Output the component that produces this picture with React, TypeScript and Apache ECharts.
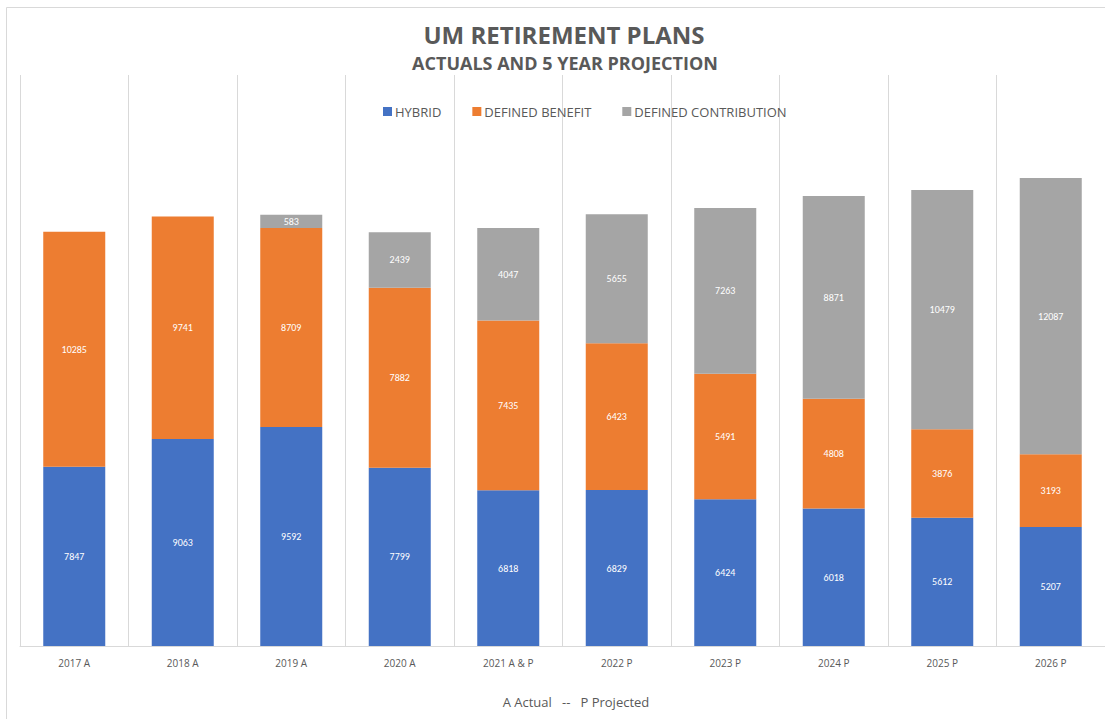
import React, { useEffect, useRef } from "react";
import * as echarts from "echarts";

const categories = ["2017 A", "2018 A", "2019 A", "2020 A", "2021 A & P", "2022 P", "2023 P", "2024 P", "2025 P", "2026 P"];
const hybrid = [7847, 9063, 9592, 7799, 6818, 6829, 6424, 6018, 5612, 5207];
const definedBenefit = [10285, 9741, 8709, 7882, 7435, 6423, 5491, 4808, 3876, 3193];
const definedContribution: (number | null)[] = [null, null, 583, 2439, 4047, 5655, 7263, 8871, 10479, 12087];

const FONT = "Calibri, Carlito, Lato, sans-serif";
const WIDE = "'Open Sans', sans-serif";
const GREY_TEXT = "#595959";

export default function App() {
  const ref = useRef<HTMLDivElement>(null);
  useEffect(() => {
    if (!ref.current) return;
    const chart = echarts.init(ref.current, null, { renderer: "svg" });
    const label = {
      show: true,
      position: "inside" as const,
      color: "#ffffff",
      fontSize: 10,
      fontFamily: FONT,
    };
    chart.setOption({
      animation: false,
      backgroundColor: "#ffffff",
      graphic: [
        {
          type: "rect",
          shape: { x: 6.5, y: 7.5, width: 1110, height: 730 },
          style: { fill: "none", stroke: "#d9d9d9", lineWidth: 1 },
          silent: true,
          z: -10,
        },
        {
          type: "text",
          x: 564,
          y: 34,
          style: {
            text: "UM RETIREMENT PLANS",
            fill: GREY_TEXT,
            font: `bold 24px ${WIDE}`,
            textAlign: "center",
            textVerticalAlign: "middle",
          },
        },
        {
          type: "text",
          x: 565,
          y: 63,
          style: {
            text: "ACTUALS AND 5 YEAR PROJECTION",
            fill: GREY_TEXT,
            font: `bold 18px ${WIDE}`,
            textAlign: "center",
            textVerticalAlign: "middle",
          },
        },
        {
          type: "text",
          x: 576,
          y: 702,
          style: {
            text: "A Actual   --   P Projected",
            fill: GREY_TEXT,
            font: `13px ${WIDE}`,
            textAlign: "center",
            textVerticalAlign: "middle",
          },
        },
      ],
      legend: {
        left: 378,
        top: 100,
        itemWidth: 9,
        itemHeight: 9,
        itemGap: 31,
        icon: "rect",
        textStyle: { color: GREY_TEXT, fontSize: 13, fontFamily: WIDE, padding: [0, 0, 0, -2] },
        data: ["HYBRID", "DEFINED BENEFIT", "DEFINED CONTRIBUTION"],
      },
      grid: { left: 20, right: 0, top: 75, bottom: 73, containLabel: false },
      xAxis: {
        type: "category",
        data: categories,
        axisLine: { lineStyle: { color: "#d9d9d9" } },
        axisTick: { show: false },
        axisLabel: { color: GREY_TEXT, fontSize: 10, fontFamily: WIDE, margin: 12, interval: 0 },
        splitLine: { show: true, interval: 0, lineStyle: { color: "#d9d9d9", width: 1 } },
      },
      yAxis: {
        type: "value",
        min: 0,
        max: 25000,
        show: false,
        splitLine: { show: false },
      },
      series: [
        {
          name: "HYBRID",
          type: "bar",
          stack: "total",
          data: hybrid,
          barWidth: 62,
          itemStyle: { color: "#4472C4" },
          label,
        },
        {
          name: "DEFINED BENEFIT",
          type: "bar",
          stack: "total",
          data: definedBenefit,
          barWidth: 62,
          itemStyle: { color: "#ED7D31" },
          label,
        },
        {
          name: "DEFINED CONTRIBUTION",
          type: "bar",
          stack: "total",
          data: definedContribution,
          barWidth: 62,
          itemStyle: { color: "#A5A5A5" },
          label,
        },
      ],
    });
    return () => chart.dispose();
  }, []);
  return <div ref={ref} style={{ position: "absolute", left: 0, top: 0, width: 1105, height: 719 }} />;
}
